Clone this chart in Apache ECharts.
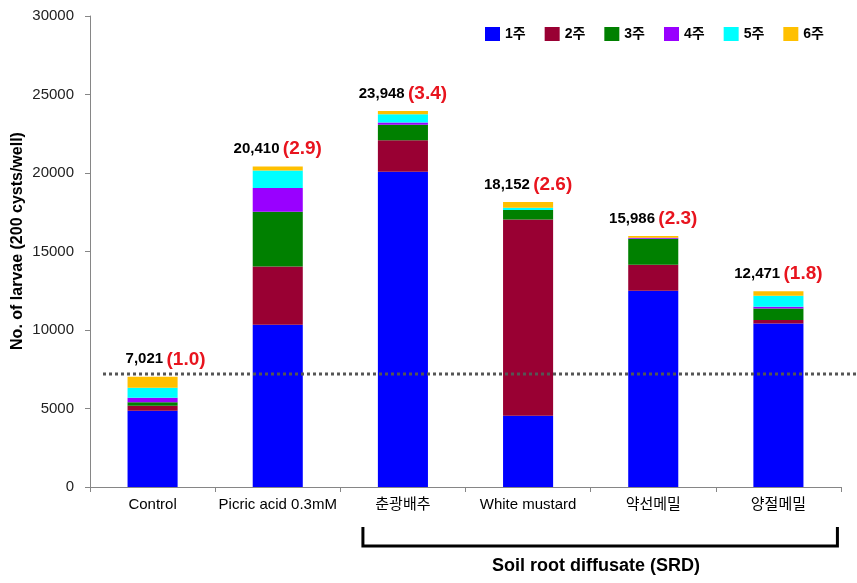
<!DOCTYPE html>
<html><head><meta charset="utf-8">
<script src="https://cdn.jsdelivr.net/npm/echarts@6/dist/echarts.min.js"></script>
<style>html,body{margin:0;padding:0;background:#fff}#c{width:857px;height:583px}</style>
</head><body><div id="c"></div>
<script>
var categories = ['Control', 'Picric acid 0.3mM', '춘광배추', 'White mustard', '약선메밀', '양절메밀'];
var seriesNames = ['1주', '2주', '3주', '4주', '5주', '6주'];
var week1 = [4860, 10340, 20080, 4540, 12500, 10420];
var week2 = [320, 3700, 2000, 12500, 1660, 215];
var week3 = [220, 3490, 1000, 600, 1650, 740];
var week4 = [290, 1510, 130, 0, 60, 100];
var week5 = [630, 1115, 530, 150, 0, 700];
var week6 = [701, 255, 208, 362, 116, 296];
var totals = ['7,021', '20,410', '23,948', '18,152', '15,986', '12,471'];
var ratios = ['(1.0)', '(2.9)', '(3.4)', '(2.6)', '(2.3)', '(1.8)'];
var refLine = 7200;
var yTicks = [0, 5000, 10000, 15000, 20000, 25000, 30000];
var yTitle = 'No. of larvae (200 cysts/well)';
var groupLabel = 'Soil root diffusate (SRD)';

var colors = ['#0000FF', '#990033', '#008000', '#9900FF', '#00FFFF', '#FFC000'];
var data = [week1, week2, week3, week4, week5, week6];
var FONT = '"Liberation Sans", Arial, "Noto Sans CJK KR", sans-serif';

var series = data.map(function (d, i) {
  var s = {
    name: seriesNames[i], type: 'bar', stack: 'total',
    barWidth: '40%', itemStyle: { color: colors[i] }, animation: false
  };
  if (i === data.length - 1) {
    s.data = d.map(function (v, j) {
      return j === 0 ? { value: v, label: { offset: [13, 0] } } : v;
    });
    s.label = {
      show: true, position: 'top', distance: 8,
      formatter: function (p) { return '{a|' + totals[p.dataIndex] + '} {b|' + ratios[p.dataIndex] + '}'; },
      rich: {
        a: { fontFamily: FONT, fontSize: 15, fontWeight: 'bold', color: '#000' },
        b: { fontFamily: FONT, fontSize: 19, fontWeight: 'bold', color: '#E8141E' }
      }
    };
  } else {
    s.data = d;
  }
  return s;
});

var chart = echarts.init(document.getElementById('c'), null, { renderer: 'canvas' });
chart.setOption({
  backgroundColor: '#fff',
  animation: false,
  textStyle: { fontFamily: FONT },
  grid: { left: 90, right: 16, top: 16, bottom: 96, containLabel: false, outerBoundsMode: 'none' },
  legend: {
    data: seriesNames, left: 480, top: 22, itemWidth: 15, itemHeight: 14, itemGap: 19,
    icon: 'rect',
    textStyle: { fontFamily: FONT, fontSize: 14, fontWeight: 'bold', color: '#000' }
  },
  xAxis: {
    type: 'category', data: categories,
    axisLine: { lineStyle: { color: '#868686', width: 1 } },
    axisTick: { show: true, length: 5, lineStyle: { color: '#868686' } },
    axisLabel: { fontFamily: FONT, fontSize: 15, color: '#000', margin: 10, interval: 0 }
  },
  yAxis: {
    type: 'value', min: 0, max: 30000, interval: 5000,
    axisLine: { show: true, lineStyle: { color: '#868686' } },
    axisTick: { show: true, length: 5, lineStyle: { color: '#868686' } },
    axisLabel: { fontFamily: FONT, fontSize: 15, color: '#222', margin: 16,
      formatter: function (v) { return yTicks.indexOf(v) >= 0 ? String(v) : ''; } },
    splitLine: { show: false }
  },
  series: series
});

var yRef = chart.convertToPixel({ yAxisIndex: 0 }, refLine);
var x2 = chart.convertToPixel({ xAxisIndex: 0 }, categories[2]);
var x5 = chart.convertToPixel({ xAxisIndex: 0 }, categories[5]);
var bl = x2 - 40, br = x5 + 59;
chart.setOption({
  graphic: [
    { type: 'line', z: 10, shape: { x1: 103, y1: yRef, x2: 857, y2: yRef },
      style: { stroke: '#555', lineWidth: 3, lineDash: [3, 3] } },
    { type: 'polyline', shape: { points: [[bl, 527], [bl, 546], [br, 546], [br, 527]] },
      style: { stroke: '#000', lineWidth: 3, fill: null } },
    { type: 'text', x: 596, y: 566,
      style: { text: groupLabel, fontFamily: FONT, fontSize: 18, fontWeight: 'bold', fill: '#000',
        textAlign: 'center', textVerticalAlign: 'middle' } },
    { type: 'text', x: 18, y: 241, rotation: Math.PI / 2,
      style: { text: yTitle, fontFamily: FONT, fontSize: 16, fontWeight: 'bold', fill: '#000',
        textAlign: 'center', textVerticalAlign: 'middle' } }
  ]
});
</script></body></html>
